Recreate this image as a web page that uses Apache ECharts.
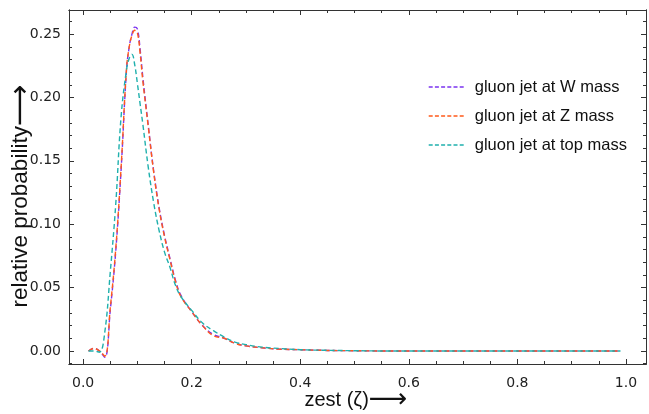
<!DOCTYPE html>
<html>
<head>
<meta charset="utf-8">
<script src="https://cdn.jsdelivr.net/npm/echarts@6/dist/echarts.min.js"></script>
<style>html,body{margin:0;padding:0;background:#fff;}#c{width:649px;height:414px;}</style>
</head>
<body>
<div id="c"></div>
<script>
// ---- data ----
var zeta = [0.01,0.02,0.03,0.04,0.05,0.06,0.07,0.08,0.085,0.09,0.095,0.10,0.105,0.11,0.12,0.13,0.14,0.15,0.16,0.17,0.18,0.20,0.22,0.24,0.26,0.28,0.30,0.33,0.36,0.40,0.45,0.50,0.55,0.60,0.65,0.70,0.75,0.80,0.85,0.90,0.95,0.99];
var gluonW   = [0.000,0.002,0.000,-0.005,0.032,0.078,0.143,0.222,0.240,0.250,0.2555,0.254,0.238,0.216,0.178,0.142,0.113,0.091,0.073,0.056,0.044,0.031,0.020,0.013,0.010,0.006,0.004,0.0025,0.0015,0.001,0.0004,0.0002,0,0,0,0,0,0,0,0,0,0];
var gluonZ   = [0.000,0.002,0.000,-0.004,0.034,0.080,0.145,0.223,0.240,0.249,0.253,0.251,0.235,0.213,0.177,0.141,0.112,0.090,0.072,0.055,0.043,0.031,0.020,0.012,0.010,0.006,0.004,0.0025,0.0015,0.001,0.0004,0.0002,0,0,0,0,0,0,0,0,0,0];
var gluonTop = [0.000,0.000,-0.001,0.015,0.062,0.115,0.185,0.222,0.231,0.234,0.226,0.211,0.195,0.179,0.145,0.117,0.095,0.078,0.066,0.052,0.043,0.032,0.022,0.016,0.011,0.007,0.005,0.003,0.002,0.001,0.0005,0.0002,0,0,0,0,0,0,0,0,0,0];
var seriesNames = ['gluon jet at W mass','gluon jet at Z mass','gluon jet at top mass'];
var seriesColors = ['#7b33f0','#ff5a1a','#1fb0ad'];
var xMajor = [0,0.2,0.4,0.6,0.8,1.0];
var yMajor = [0,0.05,0.10,0.15,0.20,0.25];
var xTitle = 'zest (\u03B6)';
var yTitle = 'relative probability';
var arrow = '\u27F6';

function pairs(ys){ return zeta.map(function(x,i){ return [x, ys[i]]; }); }
var xMinor = []; for (var i=0;i<=20;i++) xMinor.push(+(i*0.05).toFixed(2));
var yMinor = []; for (var j=-1;j<=26;j++) yMinor.push(+(j*0.01).toFixed(2));

var XMIN=-0.026, XMAX=1.037, YMIN=-0.0103, YMAX=0.269;
var tickFont = {fontFamily:'DejaVu Sans', fontSize:14, color:'#222'};
function xa(pos, ticks, len, labels){
  return {type:'value', position:pos, min:XMIN, max:XMAX,
    axisLine:{show:true, onZero:false, lineStyle:{color:'#333', width:1}},
    axisTick:{show:true, inside:true, length:len, customValues:ticks, lineStyle:{color:'#333'}},
    axisLabel:labels ? Object.assign({show:true, customValues:xMajor, margin:12, formatter:function(v){return v.toFixed(1);}}, tickFont) : {show:false},
    splitLine:{show:false}};
}
function ya(pos, ticks, len, labels){
  return {type:'value', position:pos, min:YMIN, max:YMAX,
    axisLine:{show:true, onZero:false, lineStyle:{color:'#333', width:1}},
    axisTick:{show:true, inside:true, length:len, customValues:ticks, lineStyle:{color:'#333'}},
    axisLabel:labels ? Object.assign({show:true, customValues:yMajor, margin:8, formatter:function(v){return v.toFixed(2);}}, tickFont) : {show:false},
    splitLine:{show:false}};
}
var xAxes = [xa('bottom', xMajor, 5, true), xa('bottom', xMinor, 3, false), xa('top', xMajor, 5, false), xa('top', xMinor, 3, false)];
var yAxes = [ya('left', yMajor, 5, true), ya('left', yMinor, 3, false), ya('right', yMajor, 5, false), ya('right', yMinor, 3, false)];

var data = [gluonW, gluonZ, gluonTop];
var series = data.map(function(d,k){
  return {name:seriesNames[k], type:'line', xAxisIndex:0, yAxisIndex:0, data:pairs(d),
    showSymbol:false, symbol:'none', smooth:0.4, animation:false,
    lineStyle:{color:seriesColors[k], width:1.4, type:[5,3]}, itemStyle:{color:seriesColors[k]}};
});

var chart = echarts.init(document.getElementById('c'), null, {renderer:'canvas'});
chart.setOption({
  animation:false,
  backgroundColor:'#fff',
  grid:{left:69, right:3, top:10, bottom:50, containLabel:false, outerBoundsMode:'none'},
  legend:{show:true, orient:'vertical', left:423, top:73.5, itemWidth:37, itemHeight:14, itemGap:12,
    itemStyle:{opacity:0},
    lineStyle:{width:1.4, type:[4,2.2]},
    textStyle:{fontFamily:'Liberation Sans', fontSize:16.5, color:'#111', padding:[0,0,0,4]},
    data:seriesNames},
  graphic:[
    {type:'text', x:356, y:400, silent:true,
      style:{text:'{t|'+xTitle+'}{a|'+arrow+'}', align:'center', verticalAlign:'middle',
        rich:{t:{fontFamily:'Liberation Sans', fontSize:20, fill:'#111', lineHeight:22}, a:{fontFamily:'DejaVu Sans', fontSize:27, fill:'#111', lineHeight:22}}}},
    {type:'text', x:21, y:196, rotation:Math.PI/2, silent:true,
      style:{text:'{t|'+yTitle+'}{a|'+arrow+'}', align:'center', verticalAlign:'middle',
        rich:{t:{fontFamily:'Liberation Sans', fontSize:22.5, fill:'#111', lineHeight:24}, a:{fontFamily:'DejaVu Sans', fontSize:29, fill:'#111', lineHeight:24}}}}
  ],
  xAxis:xAxes,
  yAxis:yAxes,
  series:series
});
</script>
</body>
</html>
